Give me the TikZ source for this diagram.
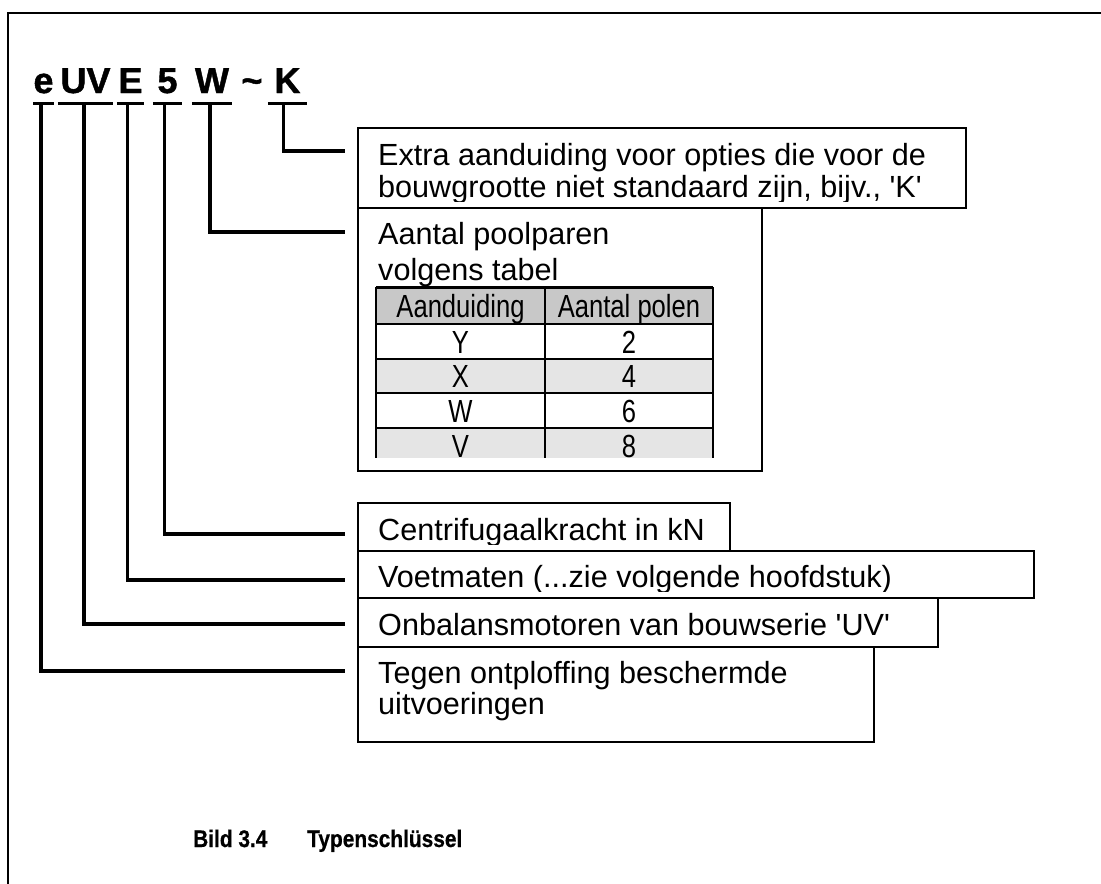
\documentclass[tikz,border=0pt]{standalone}
\usepackage{fontspec}
\setmainfont{Liberation Sans}
\newfontfamily\narrowfont[FakeStretch=0.8]{Liberation Sans}
\newfontfamily\titlefont[UprightFont=* Bold, FakeBold=1.2]{Liberation Sans}
\newfontfamily\capfont[UprightFont=* Bold, FakeStretch=0.87, FakeBold=0.6]{Liberation Sans}
\usetikzlibrary{positioning}
\definecolor{hdrgray}{RGB}{200,200,200}
\definecolor{rowgray}{RGB}{229,229,229}

\begin{document}
\begin{tikzpicture}[x=1pt, y=-1pt,
  every node/.style={inner sep=0pt},
  txt/.style={font=\fontsize{30.6}{34}\selectfont, anchor=base west},
  tbl/.style={font=\narrowfont\fontsize{32}{36}\selectfont, anchor=base},
  ttl/.style={font=\titlefont\fontsize{36}{40}\selectfont, anchor=base,
    inner ysep=10.5pt, text depth=0pt},
  lbox/.style={draw, line width=2pt, fill=white, anchor=north west},
  conn/.style={line width=3.5pt},
  tline/.style={line width=2.5pt},
  capt/.style={font=\capfont\fontsize{24}{28}\selectfont, anchor=base west}]
  \useasboundingbox (0,0) rectangle (1101,884);
  % --- frame ---
  \draw[line width=2pt] (8,884) -- (8,13) -- (1101,13);
  % --- type code ---
  \node[ttl, minimum width=17pt] (te) at (43.5,93) {e};
  \node[ttl, minimum width=55pt] (tUV) at (85.5,93) {UV};
  \node[ttl, minimum width=27pt] (tE) at (130.5,93) {E};
  \node[ttl, minimum width=29pt] (t5) at (167.5,93) {5};
  \node[ttl, minimum width=40pt] (tW) at (212,93) {W};
  \node[ttl] (ttilde) at (252,93) {\textasciitilde};
  \node[ttl, minimum width=39pt] (tK) at (287.5,93) {K};
  \foreach \n in {te,tUV,tE,t5,tW,tK}
    \draw[conn] (\n.south west) -- (\n.south east);
  % --- connector ends ---
  \coordinate (kK) at (345,151);
  \coordinate (kW) at (345,232);
  \coordinate (k5) at (345,534);
  \coordinate (kE) at (345,580);
  \coordinate (kUV) at (345,624);
  \coordinate (ke) at (345,671);
  \foreach \n/\dx/\k in {tK/-4/kK, tW/-2/kW, t5/-3/k5, tE/-3/kE, tUV/-1.5/kUV, te/-2.5/ke}
    \draw[conn] ([xshift=\dx pt]\n.south) |- (\k);
  % --- option K ---
  \node[lbox, minimum width=608pt, minimum height=80pt] (boxK) at (357,127) {};
  \begin{scope}
    \clip (boxK.north west) rectangle ([yshift=8pt]boxK.south east);
    \node[txt] (xK1) at (378,165) {Extra aanduiding voor opties die voor de};
    \node[txt] (xK2) at (378,197) {bouwgrootte niet standaard zijn, bijv.,
      \textquotesingle K\textquotesingle};
  \end{scope}
  % --- pole pairs ---
  \node[lbox, minimum width=404pt, minimum height=263pt] (boxW) at (357,207) {};
  \node[txt] (xW1) at (378,244) {Aantal poolparen};
  \node[txt] (xW2) at (378,280) {volgens tabel};
  \begin{scope}
    \clip (373,284) rectangle (716,457);
    \fill[hdrgray] (376,287) rectangle (713,324);
    \fill[white] (376,324) rectangle (713,359);
    \fill[rowgray] (376,359) rectangle (713,393);
    \fill[white] (376,393) rectangle (713,428);
    \fill[rowgray] (376,428) rectangle (713,463);
    \draw[line width=3pt] (376,287) -- (713,287);
    \foreach \y in {324,359,393,428}
      \draw[tline] (376,\y) -- (713,\y);
    \foreach \x in {376,545,713}
      \draw[tline] (\x,287) -- (\x,463);
    \node[tbl] (hA) at (460.5,317) {Aanduiding};
    \node[tbl] (hP) at (629,317) {Aantal polen};
    \foreach \l/\p/\y in {Y/2/353, X/4/387, W/6/422, V/8/457} {
      \node[tbl] (l\l) at (460.5,\y) {\l};
      \node[tbl] (p\l) at (629,\y) {\p};
    }
  \end{scope}
  % --- centrifugal force ---
  \node[lbox, minimum width=372pt, minimum height=48pt] (box5) at (357,502) {};
  \begin{scope}
    \clip (box5.north west) rectangle ([yshift=8pt]box5.south east);
    \node[txt] (x5) at (378,540) {Centrifugaalkracht in kN};
  \end{scope}
  % --- foot dimensions ---
  \node[lbox, minimum width=676pt, minimum height=47pt] (boxE) at (357,550) {};
  \begin{scope}
    \clip (boxE.north west) rectangle ([yshift=8pt]boxE.south east);
    \node[txt] (xE) at (378,587) {Voetmaten (...zie volgende hoofdstuk)};
  \end{scope}
  % --- series ---
  \node[lbox, minimum width=580pt, minimum height=49pt] (boxUV) at (357,597) {};
  \node[txt] (xUV) at (378,635) {Onbalansmotoren van bouwserie
    \textquotesingle UV\textquotesingle};
  % --- ex protection ---
  \node[lbox, minimum width=516pt, minimum height=95pt] (boxe) at (357,646) {};
  \node[txt] (xe1) at (378,683) {Tegen ontploffing beschermde};
  \node[txt] (xe2) at (378,714) {uitvoeringen};
  % --- caption ---
  \node[capt] (cap1) at (193,847) {Bild 3.4};
  \node[capt] (cap2) at (307,847) {Typenschlüssel};
\end{tikzpicture}
\end{document}
